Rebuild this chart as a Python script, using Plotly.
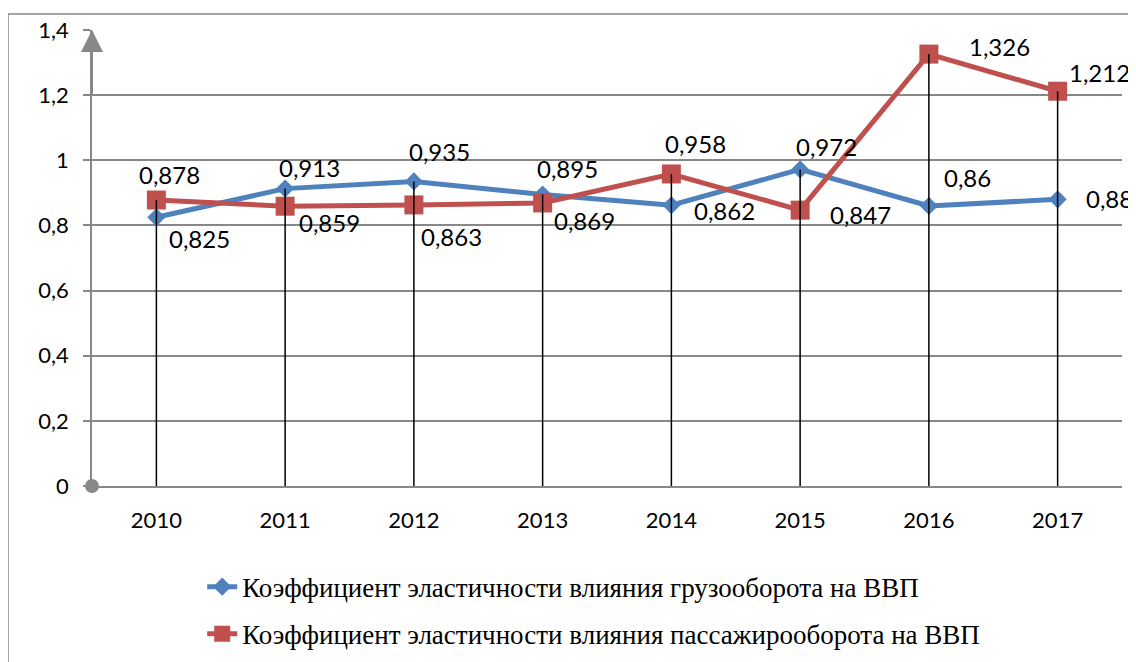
import plotly.graph_objects as go

years = ["2010", "2011", "2012", "2013", "2014", "2015", "2016", "2017"]
cargo = [0.825, 0.913, 0.935, 0.895, 0.862, 0.972, 0.86, 0.88]
passenger = [0.878, 0.859, 0.863, 0.869, 0.958, 0.847, 1.326, 1.212]
name_cargo = "Коэффициент эластичности влияния грузооборота на ВВП"
name_pass = "Коэффициент эластичности влияния пассажирооборота на ВВП"
y_ticks = [0, 0.2, 0.4, 0.6, 0.8, 1.0, 1.2, 1.4]

# label offsets in pixels (style)
cargo_off = [(43, -21), (24, 21), (26, 30), (25, 26), (53, -5), (26, 23), (39, 28), (52, 1)]
pass_off = [(13, 26), (44, -16), (38, -32), (42, -18), (24, 30), (60, -4), (71, 8), (42, 19)]

BLUE = "#4F81BD"
RED = "#C0504D"
GRAY = "#888888"
LABEL_FONT = dict(family="Lato, Open Sans, sans-serif", size=24, color="black")
TICK_FONT = dict(family="Lato, Open Sans, sans-serif", size=22, color="black")

x = list(range(len(years)))

def fmt(v):
    return str(v).replace(".", ",")

fig = go.Figure()

fig.add_trace(go.Scatter(
    x=x, y=cargo, name=name_cargo, mode="lines+markers",
    line=dict(color=BLUE, width=5),
    marker=dict(symbol="diamond", size=14, color=BLUE),
    legendgroup="a",
))
fig.add_trace(go.Scatter(
    x=x, y=passenger, name=name_pass, mode="lines+markers",
    line=dict(color=RED, width=5),
    marker=dict(symbol="square", size=19, color=RED),
    legendgroup="b",
))

# drop lines from axis to the higher of the two series
dx, dy = [], []
for i in x:
    dx += [i, i, None]
    dy += [0, max(cargo[i], passenger[i]), None]
fig.add_trace(go.Scatter(x=dx, y=dy, mode="lines", line=dict(color="black", width=1.5),
                         showlegend=False, hoverinfo="skip"))

# origin dot
fig.add_trace(go.Scatter(x=[-0.5], y=[0], mode="markers", marker=dict(color=GRAY, size=14),
                         showlegend=False, cliponaxis=False, hoverinfo="skip"))

for i in x:
    fig.add_annotation(x=i, y=cargo[i], text=fmt(cargo[i]), showarrow=False,
                       xshift=cargo_off[i][0], yshift=cargo_off[i][1], font=LABEL_FONT)
    fig.add_annotation(x=i, y=passenger[i], text=fmt(passenger[i]), showarrow=False,
                       xshift=pass_off[i][0], yshift=pass_off[i][1], font=LABEL_FONT)

# arrow on the y axis
fig.add_annotation(x=-0.5, y=1.4, ax=-0.5, ay=1.2, xref="x", yref="y", axref="x", ayref="y",
                   text="", showarrow=True, arrowhead=2, arrowsize=2.2, arrowwidth=2,
                   arrowcolor=GRAY)

# outer border
fig.add_shape(type="rect", xref="paper", yref="paper",
              x0=(0 - 84) / 1030, x1=(1150 - 84) / 1030,
              y0=(478 - 675) / 456, y1=(478 - 6) / 456,
              line=dict(color=GRAY, width=1.5), fillcolor="rgba(0,0,0,0)", layer="below")

fig.update_layout(
    width=1128, height=654,
    margin=dict(l=84, r=14, t=22, b=176, autoexpand=False),
    paper_bgcolor="white", plot_bgcolor="white",
    separators=", ",
    showlegend=True,
    legend=dict(x=0.107, y=-0.168, xanchor="left", yanchor="top",
                font=dict(family="Liberation Serif, Times New Roman, serif", size=27, color="black"),
                tracegroupgap=9, bgcolor="rgba(0,0,0,0)"),
    xaxis=dict(range=[-0.5, 7.5], tickvals=x, ticktext=years, showgrid=False, automargin=False,
               showline=True, linecolor=GRAY, linewidth=1.5, ticks="", zeroline=False,
               tickfont=TICK_FONT, ticklabelstandoff=14),
    yaxis=dict(range=[0, 1.4], tickvals=y_ticks, showgrid=True, gridcolor=GRAY, gridwidth=1.5,
               automargin=False,
               showline=True, linecolor=GRAY, linewidth=1.5, ticks="outside", ticklen=7,
               tickcolor=GRAY, tickwidth=1.5, zeroline=False,
               tickfont=TICK_FONT, ticklabelstandoff=10),
)

fig.write_html("out.html")
